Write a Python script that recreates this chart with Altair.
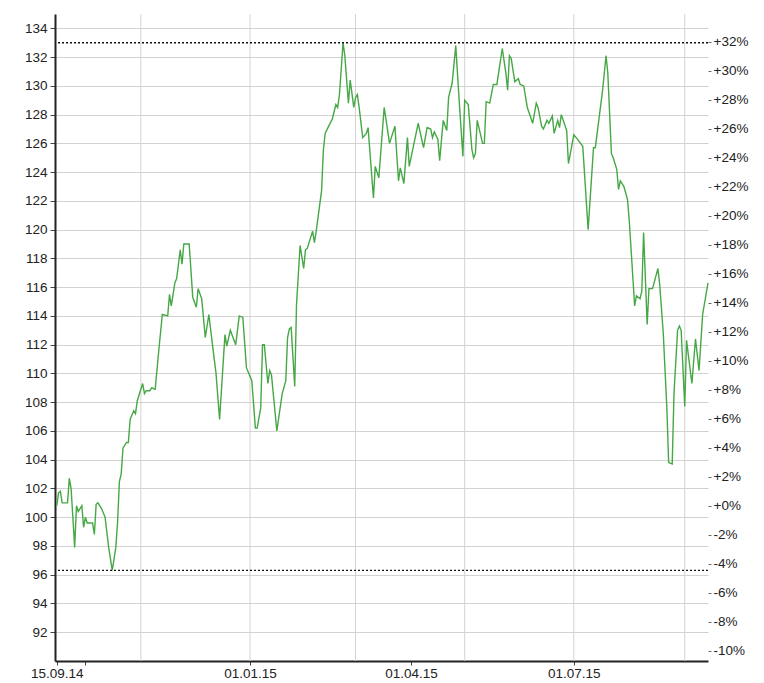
import altair as alt
import pandas as pd

# days since 14.09.2014, and index level
start_date = "2014-09-14"
days = [1, 2, 3, 4, 7, 8, 9, 11, 12, 13, 15, 16, 17, 18, 21, 22, 23, 24, 26, 28,
        30, 32, 34, 35, 36, 37, 38, 40, 41, 42, 44, 45, 46, 49, 50, 51, 53, 54, 56, 58,
        60, 63, 64, 65, 67, 68, 70, 71, 72, 75, 77, 79, 80, 82, 84, 86, 88, 90, 92, 95,
        96, 98, 101, 103, 105, 107, 110, 112, 113, 115, 116, 117, 119, 120, 121, 124, 127, 129, 130, 131,
        132, 134, 135, 137, 139, 140, 141, 144, 145, 146, 149, 150, 151, 153, 155, 157, 158, 159, 161, 162,
        164, 165, 167, 168, 169, 170, 172, 174, 175, 178, 179, 181, 184, 187, 190, 192, 193, 195, 197, 198,
        203, 206, 208, 210, 211, 212, 214, 215, 217, 219, 220, 222, 224, 226, 228, 229, 231, 233, 234, 235,
        236, 239, 240, 241, 243, 245, 247, 250, 252, 253, 254, 255, 257, 259, 260, 262, 264, 267, 269, 270,
        272, 273, 275, 276, 278, 279, 281, 282, 283, 286, 287, 290, 292, 295, 298, 301, 302, 306, 308, 309,
        311, 312, 314, 315, 316, 318, 320, 321, 324, 325, 327, 328, 329, 331, 332, 334, 337, 338, 340, 342,
        343, 345, 346, 348, 349, 350, 352, 353, 356, 358, 360, 362, 365]
values = [100.8, 101.7, 101.8, 101.0, 101.0, 102.7, 102.0, 97.9, 100.8, 100.4, 100.8, 99.3, 100.0, 99.6, 99.6, 98.8, 100.9, 101.0, 100.6, 100.0,
          97.9, 96.3, 97.9, 99.7, 102.5, 103.0, 104.8, 105.2, 105.2, 106.8, 107.4, 107.2, 108.1, 109.3, 108.6, 108.8, 108.8, 109.0, 108.9, 111.6,
          114.1, 114.0, 115.5, 114.7, 116.3, 116.6, 118.6, 117.6, 119.0, 119.0, 115.3, 114.6, 115.9, 115.2, 112.5, 114.1, 112.0, 110.0, 106.8, 112.7,
          111.9, 113.0, 112.0, 114.0, 113.9, 110.4, 109.5, 106.2, 106.2, 107.6, 112.0, 112.0, 109.3, 110.2, 109.9, 106.0, 108.6, 109.5, 112.5, 113.1,
          113.2, 109.1, 114.8, 118.9, 117.3, 118.6, 118.7, 119.9, 119.1, 119.9, 122.7, 125.5, 126.7, 127.2, 127.7, 128.7, 128.5, 129.4, 133.0, 132.1,
          128.8, 130.4, 128.5, 129.2, 129.4, 128.5, 126.4, 126.7, 127.1, 122.2, 124.4, 123.6, 128.5, 126.0, 127.2, 123.4, 124.3, 123.2, 126.4, 124.4,
          127.4, 125.7, 127.1, 127.0, 126.4, 126.8, 126.3, 124.8, 127.6, 126.9, 129.2, 130.2, 132.8, 128.8, 125.1, 129.0, 128.7, 125.6, 125.0, 125.3,
          127.6, 126.0, 126.0, 128.9, 128.8, 130.1, 130.1, 132.6, 130.9, 129.7, 132.1, 131.9, 130.3, 130.5, 130.1, 130.0, 128.5, 127.4, 128.8, 128.5,
          127.2, 127.0, 127.6, 127.4, 127.9, 126.7, 127.6, 127.1, 128.0, 126.9, 124.6, 126.6, 126.3, 125.8, 120.0, 125.7, 125.7, 129.6, 132.1, 130.9,
          125.3, 125.0, 124.2, 122.8, 123.4, 123.0, 122.1, 120.6, 114.7, 115.4, 115.2, 115.7, 119.8, 113.4, 115.9, 115.9, 117.3, 116.2, 112.8, 107.6,
          103.8, 103.7, 108.6, 113.0, 113.3, 113.0, 107.7, 112.3, 109.3, 112.4, 110.2, 114.1, 116.3]

y_ticks = list(range(92, 135, 2))
pct_ticks = list(range(-10, 33, 2))
grid_dates = ["2014-11-01", "2015-01-01", "2015-03-01", "2015-05-01", "2015-07-01", "2015-09-01"]
label_dates = [(2014, 9, 15), (2014, 10, 1), (2015, 1, 1), (2015, 4, 1), (2015, 7, 1)]
y_min, y_max = 90, 135

df = pd.DataFrame({
    "date": pd.Timestamp(start_date) + pd.to_timedelta(days, unit="D"),
    "value": values,
})
base = values[0]
df["pct"] = (df["value"] / base - 1) * 100
grid_df = pd.DataFrame({"gdate": pd.to_datetime(grid_dates)})

FONT = "Liberation Sans"
FS = 13.5

x_scale = alt.Scale(domain=[alt.DateTime(year=2014, month=9, date=14),
                            alt.DateTime(year=2015, month=9, date=14)])
x_axis = alt.Axis(
    values=[alt.DateTime(year=y, month=m, date=d) for (y, m, d) in label_dates],
    format="%d.%m.%y",
    labelExpr="month(datum.value) == 9 && date(datum.value) == 1 ? '' : datum.label",
    title=None, grid=False, labelFlush=False, labelOverlap=False,
    domainColor="#222", domainWidth=2, tickColor="#444", tickSize=4,
    labelFont=FONT, labelFontSize=FS, labelColor="#222", labelPadding=1,
)
y_scale = alt.Scale(domain=[y_min, y_max], nice=False, zero=False)
y_axis = alt.Axis(
    values=y_ticks, title=None, grid=True, gridColor="#d2d2d2", gridWidth=1,
    domainColor="#222", domainWidth=2, tickColor="#444", tickSize=5,
    labelFont=FONT, labelFontSize=FS, labelColor="#222", labelPadding=3,
    minExtent=47, maxExtent=47,
)

X = alt.X("date:T", scale=x_scale, axis=x_axis)

vgrid = alt.Chart(grid_df).mark_rule(color="#d2d2d2", strokeWidth=1).encode(
    x=alt.X("gdate:T", scale=x_scale, axis=x_axis)
)
line = alt.Chart(df).mark_line(color="#45a845", strokeWidth=1.4).encode(
    x=X, y=alt.Y("value:Q", scale=y_scale, axis=y_axis)
)
max_rule = alt.Chart(df).mark_rule(color="#111", strokeDash=[2, 2], strokeWidth=1.3).encode(
    y=alt.Y("max(value):Q", scale=y_scale, axis=y_axis)
)
min_rule = alt.Chart(df).mark_rule(color="#111", strokeDash=[2, 2], strokeWidth=1.3).encode(
    y=alt.Y("min(value):Q", scale=y_scale, axis=y_axis)
)
left = alt.layer(vgrid, line, max_rule, min_rule)

pct_lo = (y_min / base - 1) * 100
pct_hi = (y_max / base - 1) * 100
right = alt.Chart(df).mark_line(opacity=0).encode(
    x=X,
    y=alt.Y("pct:Q",
            scale=alt.Scale(domain=[pct_lo, pct_hi], nice=False, zero=False),
            axis=alt.Axis(orient="right", values=pct_ticks, title=None, grid=False,
                          domain=False, tickColor="#666", tickSize=3,
                          labelExpr="(datum.value >= 0 ? '+' : '') + datum.value + '%'",
                          labelFont=FONT, labelFontSize=FS, labelColor="#222",
                          labelPadding=2)),
)

chart = alt.layer(left, right).resolve_scale(y="independent").properties(
    width=653, height=647,
    padding={"left": 0, "top": 5, "right": 2, "bottom": 0},
).configure_view(stroke=None)

chart.save("out.html", embed_options={"renderer": "svg", "actions": False})
